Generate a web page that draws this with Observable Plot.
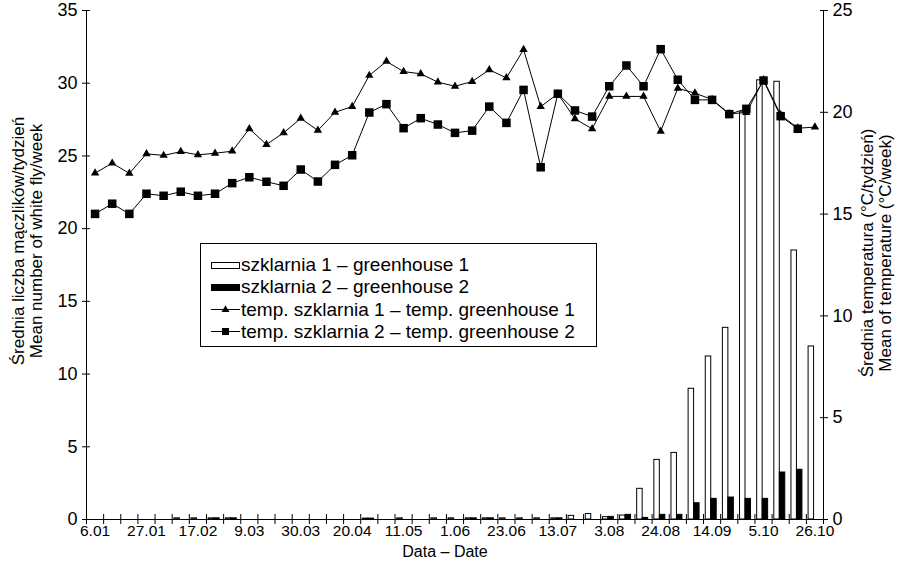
<!DOCTYPE html>
<html><head><meta charset="utf-8">
<script src="https://cdn.jsdelivr.net/npm/d3@7"></script>
<script src="https://cdn.jsdelivr.net/npm/@observablehq/plot@0.6"></script>
<style>
body{margin:0;background:#fff;}
#wrap{position:relative;width:906px;height:569px;font-family:"Liberation Sans",Arial,sans-serif;color:#000;}
#legend{position:absolute;left:200px;top:243px;width:395px;height:102px;border:1px solid #000;background:#fff;font-size:19px;}
.row{position:absolute;left:10px;height:22px;display:flex;align-items:center;white-space:nowrap;}
.row svg{margin-right:1px;}
</style></head><body><div id="wrap"></div>
<script>
const tickLabels = ["6.01","27.01","17.02","9.03","30.03","20.04","11.05","1.06","23.06","13.07","3.08","24.08","14.09","5.10","26.10"];
const leftTicks = [0,5,10,15,20,25,30,35];
const rightTicks = [0,5,10,15,20,25];
const whitefly1 = [0,0,0,0,0,0.08,0.08,0.08,0.08,0,0,0,0,0,0,0,0.06,0,0.08,0,0.08,0.08,0.08,0.08,0.08,0.08,0.08,0.08,0.25,0.38,0.16,0.27,2.11,4.1,4.58,8.99,11.21,13.18,28.0,30.2,30.1,18.5,11.9];
const whitefly2 = [0,0,0,0,0,0,0,0.08,0.08,0,0,0,0,0,0,0,0.06,0,0,0,0,0,0.08,0.08,0,0,0,0.08,0,0,0.18,0.32,0.11,0.32,0.32,1.12,1.42,1.51,1.42,1.42,3.23,3.42,0];
const temp1 = [17.01,17.5,17.0,17.96,17.88,18.07,17.91,17.99,18.09,19.19,18.42,18.99,19.70,19.11,20.0,20.28,21.81,22.5,22.0,21.89,21.48,21.28,21.51,22.09,21.69,23.08,20.28,20.91,19.68,19.19,20.78,20.78,20.78,19.07,21.18,20.94,20.63,19.93,19.98,21.6,19.88,19.22,19.27];
const temp2 = [15.01,15.51,15.01,16.0,15.9,16.1,15.9,16.0,16.52,16.81,16.59,16.39,17.19,16.6,17.42,17.89,19.99,20.4,19.22,19.71,19.4,18.99,19.1,20.28,19.48,21.1,17.3,20.91,20.09,19.79,21.28,22.3,21.28,23.1,21.6,20.61,20.61,19.91,20.17,21.56,19.81,19.19,null];

const nWeeks = whitefly1.length;
const tScale = 35 / 25; // right axis (°C) mapped onto left axis range
const rows = d3.range(nWeeks).map(i => ({i, w1: whitefly1[i], w2: whitefly2[i], t1: temp1[i], t2: temp2[i]}));
const font = '"Liberation Sans", Arial, sans-serif';

const chart = Plot.plot({
  width: 906, height: 569,
  marginLeft: 86, marginRight: 83, marginTop: 10, marginBottom: 50,
  style: {fontFamily: font, fontSize: "15px", color: "#000", background: "white", overflow: "visible"},
  x: {type: "linear", domain: [0, nWeeks], axis: null},
  y: {domain: [0, 35], axis: null},
  marks: [
    Plot.rectY(rows.filter(d => d.w1 > 0), {x1: d => d.i + 0.13, x2: d => d.i + 0.45, y1: 0, y2: d => d.w1, fill: "white", stroke: "black", strokeWidth: 1}),
    Plot.rectY(rows.filter(d => d.w2 > 0), {x1: d => d.i + 0.45, x2: d => d.i + 0.77, y1: 0, y2: d => d.w2, fill: "black", stroke: "black", strokeWidth: 1}),
    Plot.ruleX([0, nWeeks], {stroke: "black"}),
    Plot.ruleY([0], {stroke: "black"}),
    Plot.line(rows, {x: d => d.i + 0.5, y: d => d.t1 * tScale, stroke: "black", strokeWidth: 1}),
    Plot.dot(rows, {x: d => d.i + 0.5, y: d => d.t1 * tScale, symbol: "triangle", r: 3.1, fill: "black"}),
    Plot.line(rows.filter(d => d.t2 != null), {x: d => d.i + 0.5, y: d => d.t2 * tScale, stroke: "black", strokeWidth: 1}),
    Plot.dot(rows.filter(d => d.t2 != null), {x: d => d.i + 0.5, y: d => d.t2 * tScale, symbol: "square", r: 4.8, fill: "black"}),
    // left axis
    Plot.axisY({anchor: "left", ticks: leftTicks, tickSize: 8, dx: 4, tickFormat: () => "", label: null}),
    Plot.axisY({anchor: "left", ticks: leftTicks, tickSize: 0, tickPadding: 9, label: null, fontSize: 18}),
    // right axis
    Plot.axisY({anchor: "right", ticks: rightTicks.map(t => t * tScale), tickSize: 8, dx: -4, tickFormat: () => "", label: null}),
    Plot.axisY({anchor: "right", ticks: rightTicks.map(t => t * tScale), tickSize: 0, tickPadding: 9, tickFormat: d => String(Math.round(d / tScale)), label: null, fontSize: 18}),
    // bottom axis
    Plot.axisX({anchor: "bottom", ticks: d3.range(0, nWeeks + 1), tickSize: 10, dy: -5, tickFormat: () => "", label: null}),
    Plot.axisX({anchor: "bottom", ticks: tickLabels.map((_, k) => 3 * k + 0.5), tickSize: 0, tickPadding: 5, tickFormat: d => tickLabels[Math.round((d - 0.5) / 3)], label: null, fontSize: 15.5}),
    // titles
    Plot.text(["Średnia liczba mączlików/tydzień\nMean number of white fly/week"], {text: d => d, frameAnchor: "left", textAnchor: "middle", lineAnchor: "middle", rotate: -90, dx: -59, dy: -24, fontSize: 17, lineHeight: 1.07}),
    Plot.text(["Średnia temperatura (°C/tydzień)\nMean of temperature (°C/week)"], {text: d => d, frameAnchor: "right", textAnchor: "middle", lineAnchor: "middle", rotate: -90, dx: 53, dy: -12, fontSize: 17, lineHeight: 1.07}),
    Plot.text(["Data – Date"], {text: d => d, frameAnchor: "bottom", textAnchor: "middle", dy: 37, dx: -10, fontSize: 16})
  ]
});
const wrap = document.getElementById("wrap");
wrap.appendChild(chart);

const legendItems = [
  {label: "szklarnia 1 – greenhouse 1", kind: "bar", fill: "white"},
  {label: "szklarnia 2 – greenhouse 2", kind: "bar", fill: "black"},
  {label: "temp. szklarnia 1 – temp. greenhouse 1", kind: "tri"},
  {label: "temp. szklarnia 2 – temp. greenhouse 2", kind: "sq"}
];
const legend = document.createElement("div");
legend.id = "legend";
legendItems.forEach((it, k) => {
  const row = document.createElement("div");
  row.className = "row";
  row.style.top = (10 + k * 22.3) + "px";
  let sym;
  if (it.kind === "bar") {
    sym = `<rect x="0.5" y="3.5" width="28" height="6" fill="${it.fill}" stroke="black"/>`;
  } else if (it.kind === "tri") {
    sym = `<line x1="0" x2="29" y1="6.5" y2="6.5" stroke="black"/><path d="M14.5,2.5 L18.5,9 L10.5,9 Z" fill="black"/>`;
  } else {
    sym = `<line x1="0" x2="29" y1="6.5" y2="6.5" stroke="black"/><rect x="11" y="3" width="7" height="7" fill="black"/>`;
  }
  row.innerHTML = `<svg width="29" height="13">${sym}</svg><span>${it.label}</span>`;
  legend.appendChild(row);
});
wrap.appendChild(legend);
</script>
</body></html>
